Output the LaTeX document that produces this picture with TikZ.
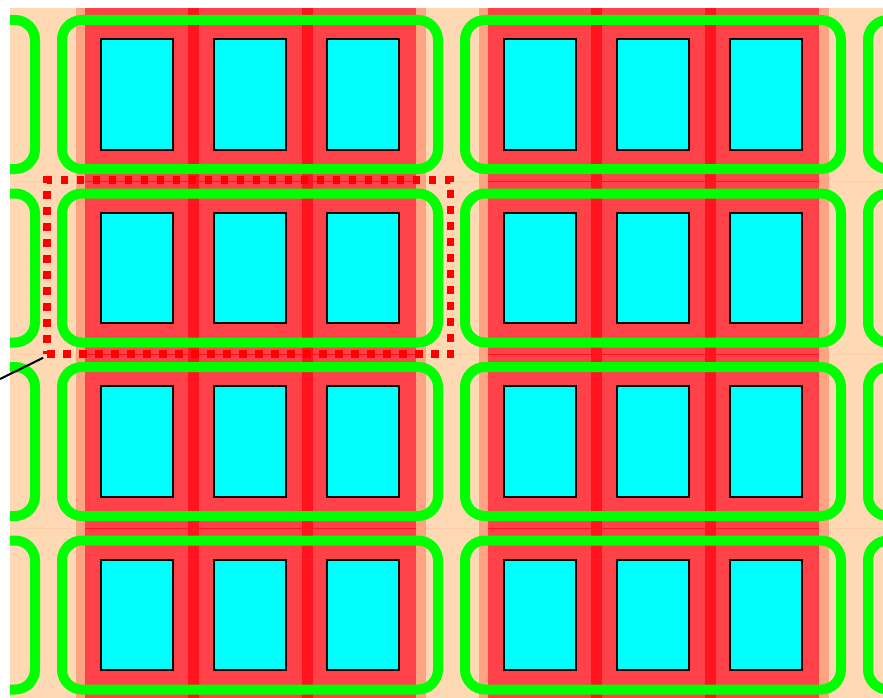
\documentclass[tikz,border=0pt]{standalone}
\usepackage{tikz}
\usetikzlibrary{positioning}
\definecolor{peach}{HTML}{FFD9B4}
\definecolor{salmon}{HTML}{FFA483}
\definecolor{cellred}{HTML}{FF4249}
\definecolor{stripred}{HTML}{FF1420}
\definecolor{ringgreen}{HTML}{00FF00}
\definecolor{padcyan}{HTML}{00FFFF}
\tikzset{
	padbox/.style={draw=black, line width=1.6pt, fill=padcyan, minimum width=72.5pt, minimum height=110.5pt, inner sep=0pt},
	ring/.style={draw=ringgreen, line width=10pt, rounded corners=20pt},
	unitbox/.style={draw=red, line width=7.5pt, dash pattern=on 7.5pt off 8.5pt, minimum width=403.5pt, minimum height=174pt, inner sep=0pt},
}

\begin{document}
\begin{tikzpicture}[
		x=1pt, y=-1pt,
		seam/.style={line width=1pt},
		leader/.style={draw=black, line width=2pt}
		]
		\useasboundingbox (0,0) rectangle (883,698);
		\fill[peach] (10,8) rectangle (883,698);
		\begin{scope}
			\clip (10,8) rectangle (883,698);
			% red columns of the two full groups
			\foreach \grp in {0,1} {
				\pgfmathsetmacro{\cx}{250+403*\grp}
				\fill[salmon] (\cx-174,8) rectangle (\cx+176,698);
				\fill[cellred] (\cx-165,8) rectangle (\cx+166,698);
				\fill[stripred] (\cx-62,8) rectangle (\cx-51,698);
				\fill[stripred] (\cx+52,8) rectangle (\cx+63,698);
				\foreach \yy in {181,354.5,528} {
					\draw[seam, stripred] (\cx-165,\yy) -- (\cx+166,\yy);
				}
			}
			\foreach \yy in {181,354.5,528} {
				\draw[seam, salmon!20!peach] (10,\yy) -- (76,\yy);
				\draw[seam, salmon!20!peach] (426,\yy) -- (479,\yy);
				\draw[seam, salmon!20!peach] (829,\yy) -- (883,\yy);
			}
			% rings and pads
			\foreach \grp in {-1,0,1,2} {
				\foreach \row in {0,1,2,3} {
					\pgfmathsetmacro{\cx}{250+403*\grp}
					\pgfmathsetmacro{\cy}{94.5+173.5*\row}
					\draw[ring] (\cx-188,\cy-74.5) rectangle (\cx+188,\cy+74.5);
					\foreach \k in {-1,0,1} {
						\node[padbox] (pad-\grp-\row-\k) at (\cx+113*\k,\cy) {};
					}
				}
			}
		\end{scope}
		\node[unitbox] (unit) at (248.75,267) {};
		\coordinate (tag) at (0,379);
		\draw[leader] (unit.south west) -- (tag);
\end{tikzpicture}
\end{document}
